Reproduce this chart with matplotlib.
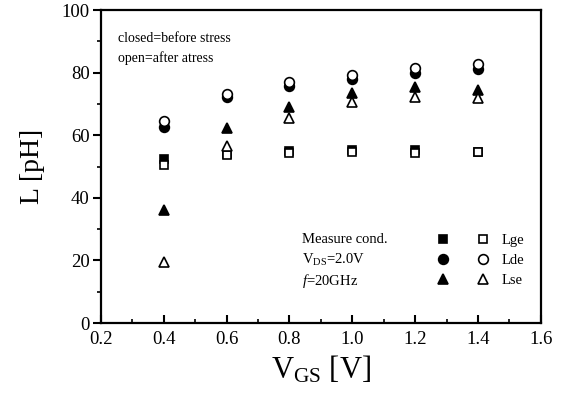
import numpy as np
import matplotlib
matplotlib.use('Agg')
import matplotlib.pyplot as plt
from matplotlib.ticker import MultipleLocator

plt.rcParams['font.family'] = ['Liberation Serif', 'DejaVu Serif']
plt.rcParams['mathtext.fontset'] = 'custom'
plt.rcParams['mathtext.rm'] = 'Liberation Serif'
plt.rcParams['mathtext.it'] = 'Liberation Serif:italic'

# gate voltage V_GS [V]
vgs = [0.4, 0.6, 0.8, 1.0, 1.2, 1.4]

# closed = before stress, open = after stress, L in pH
lge_before = [52.4, 54.0, 55.0, 55.3, 55.3, 54.6]
lge_after = [50.5, 53.7, 54.3, 54.6, 54.3, 54.6]
lde_before = [62.6, 72.2, 75.7, 78.0, 79.9, 81.2]
lde_after = [64.5, 73.2, 77.0, 79.2, 81.5, 82.7]
lse_before = [36.0, 62.3, 69.0, 73.5, 75.4, 74.4]
lse_after = [19.5, 56.5, 65.5, 70.6, 72.2, 71.9]

series_names = ['Lge', 'Lde', 'Lse']

fig = plt.figure(figsize=(5.67, 4.03), dpi=100)
ax = fig.add_axes([0.178, 0.1985, 0.776, 0.7765])

closed = []
opened = []
for before, after, mk, ms in [(lge_before, lge_after, 's', 5.5),
                              (lde_before, lde_after, 'o', 7),
                              (lse_before, lse_after, '^', 7.5)]:
    h1, = ax.plot(vgs, before, ls='none', marker=mk, ms=ms, mfc='black',
                  mec='black', mew=1.2)
    h2, = ax.plot(vgs, after, ls='none', marker=mk, ms=ms, mfc='white',
                  mec='black', mew=1.2)
    closed.append(h1)
    opened.append(h2)

ax.set_xlim(0.2, 1.6)
ax.set_ylim(0, 100)
ax.xaxis.set_major_locator(MultipleLocator(0.2))
ax.xaxis.set_minor_locator(MultipleLocator(0.1))
ax.yaxis.set_major_locator(MultipleLocator(20))
ax.yaxis.set_minor_locator(MultipleLocator(10))
ax.xaxis.set_major_formatter(matplotlib.ticker.FormatStrFormatter('%.1f'))

ax.tick_params(axis='x', which='both', direction='in', labelsize=13.5, pad=6)
ax.tick_params(axis='x', which='major', length=6, width=1.5)
ax.tick_params(axis='x', which='minor', length=3, width=1.2)
ax.tick_params(axis='y', which='both', direction='out', labelsize=13.5, pad=2)
ax.tick_params(axis='y', which='major', length=6, width=1.5)
ax.tick_params(axis='y', which='minor', length=3, width=1.2)
for sp in ax.spines.values():
    sp.set_linewidth(1.6)

ax.set_xlabel(r'V$_{\rm GS}$ [V]', fontsize=22, labelpad=4)
ax.set_ylabel('L [pH]', fontsize=20, labelpad=12)

ax.text(0.038, 0.91, 'closed=before stress', transform=ax.transAxes,
        fontsize=10, va='center')
ax.text(0.038, 0.845, 'open=after atress', transform=ax.transAxes,
        fontsize=10, va='center')

ax.text(0.458, 0.267, 'Measure cond.', transform=ax.transAxes,
        fontsize=10.5, va='center')
ax.text(0.458, 0.2, r'V$_{\rm DS}$=2.0V', transform=ax.transAxes,
        fontsize=10.5, va='center')
ax.text(0.458, 0.133, r'$\it{f}$=20GHz', transform=ax.transAxes,
        fontsize=10.5, va='center')

ax.legend(closed + opened, [''] * 3 + series_names, ncol=2,
          loc='center left', bbox_to_anchor=(0.762, 0.2), frameon=False,
          fontsize=10.5, handlelength=1.0, handletextpad=0.8,
          columnspacing=0.9, labelspacing=0.45, borderpad=0,
          borderaxespad=0)

fig.savefig('out.png', dpi=100)
